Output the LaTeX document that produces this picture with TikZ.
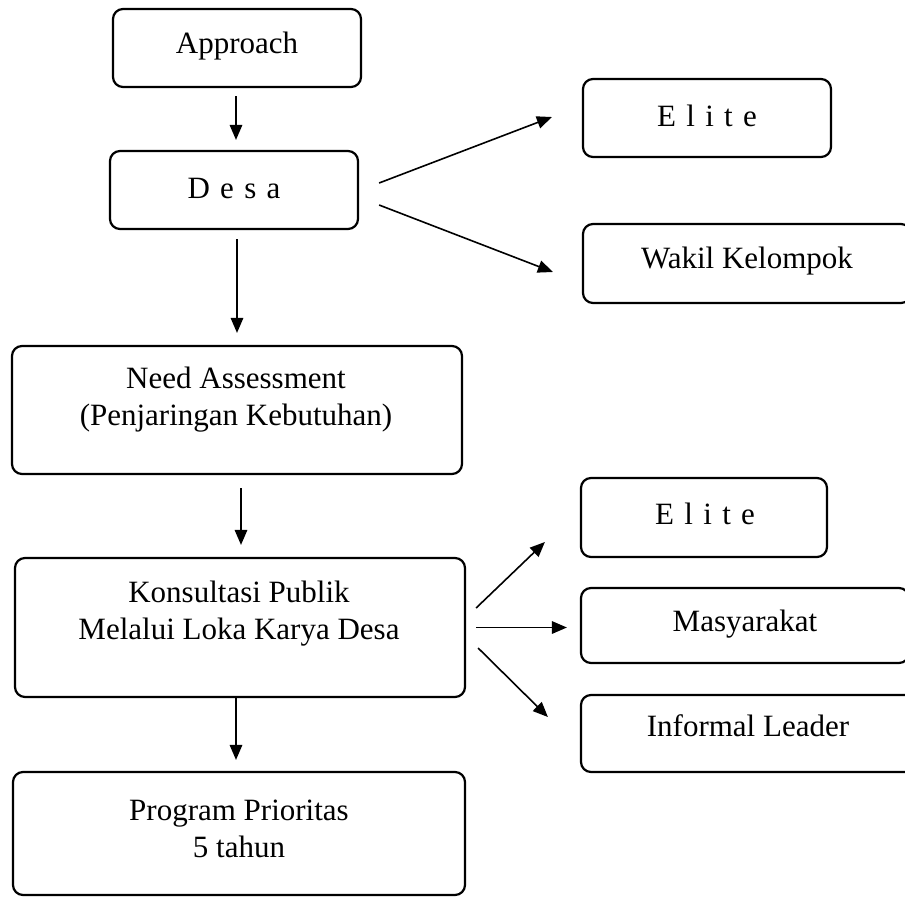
\documentclass[tikz,border=0pt]{standalone}
\usepackage{fontspec}
\setmainfont{Liberation Serif}
\usetikzlibrary{arrows.meta}
\begin{document}
\begin{tikzpicture}[x=1pt,y=-1pt,
  box/.style={draw=black, line width=2.2pt, rounded corners=10pt, inner sep=0pt},
  lbl/.style={font=\fontsize{31}{37}\selectfont, align=center, inner sep=0pt},
  arr/.style={line width=1.6pt, -{Triangle[length=15pt,width=12.5pt]}}]
\useasboundingbox (0,0) rectangle (905,898);
\clip (0,0) rectangle (905,898);
\fill[white] (0,0) rectangle (905,898);
% boxes
\node[box, minimum width=248pt, minimum height=78pt] (approach) at (237,48) {};
\node[box, minimum width=248pt, minimum height=78pt] (desa) at (234,190) {};
\node[box, minimum width=248pt, minimum height=78pt] (elite1) at (707,118) {};
\node[box, minimum width=328pt, minimum height=79pt] (wakil) at (747,263.5) {};
\node[box, minimum width=450pt, minimum height=128pt] (need) at (237,410) {};
\node[box, minimum width=450pt, minimum height=139pt] (kons) at (240,627.5) {};
\node[box, minimum width=246pt, minimum height=79pt] (elite2) at (704,517.5) {};
\node[box, minimum width=328pt, minimum height=75pt] (masy) at (745,625.5) {};
\node[box, minimum width=334pt, minimum height=77pt] (inf) at (748,733.5) {};
\node[box, minimum width=452pt, minimum height=123pt] (prog) at (239,833.5) {};
% labels
\node[lbl] (tapproach) at (237,46) {Approach};
\node[lbl] (tdesa) at (234,188) {D\,\,e\,\,s\,\,a};
\node[lbl] (telite1) at (707,116) {E\,\,l\,\,i\,\,t\,\,e};
\node[lbl] (twakil) at (747,261) {Wakil Kelompok};
\node[lbl] (tneed) at (236,400) {Need Assessment\\(Penjaringan Kebutuhan)};
\node[lbl] (tkons) at (239,614) {Konsultasi Publik\\Melalui Loka Karya Desa};
\node[lbl] (telite2) at (705,514) {E\,\,l\,\,i\,\,t\,\,e};
\node[lbl] (tmasy) at (745,624) {Masyarakat};
\node[lbl] (tinf) at (748,726) {Informal Leader};
\node[lbl] (tprog) at (239,829) {Program Prioritas\\5 tahun};
% connectors
\draw[arr] ([shift={(-1,8)}]approach.south) -- ([shift={(2,-10)}]desa.north);
\draw[arr] ([shift={(3,9)}]desa.south) -- ([shift={(0,-12)}]need.north);
\draw[arr] ([shift={(20,-7)}]desa.east) -- ([shift={(-30,-1)}]elite1.west);
\draw[arr] ([shift={(20,15)}]desa.east) -- ([shift={(-29,8.5)}]wakil.west);
\draw[arr] ([shift={(4,13)}]need.south) -- ([shift={(1,-12)}]kons.north);
\draw[arr] ([shift={(10,-19.5)}]kons.east) -- ([shift={(-35,24.5)}]elite2.west);
\draw[arr] ([shift={(10,0)}]kons.east) -- ([shift={(-13,0)}]masy.west |- kons.east);
\draw[arr] ([shift={(12,20.5)}]kons.east) -- ([shift={(-32,-16.5)}]inf.west);
\draw[arr] ([shift={(-4,0)}]kons.south) -- ([shift={(-3,-11)}]prog.north);
\end{tikzpicture}
\end{document}
